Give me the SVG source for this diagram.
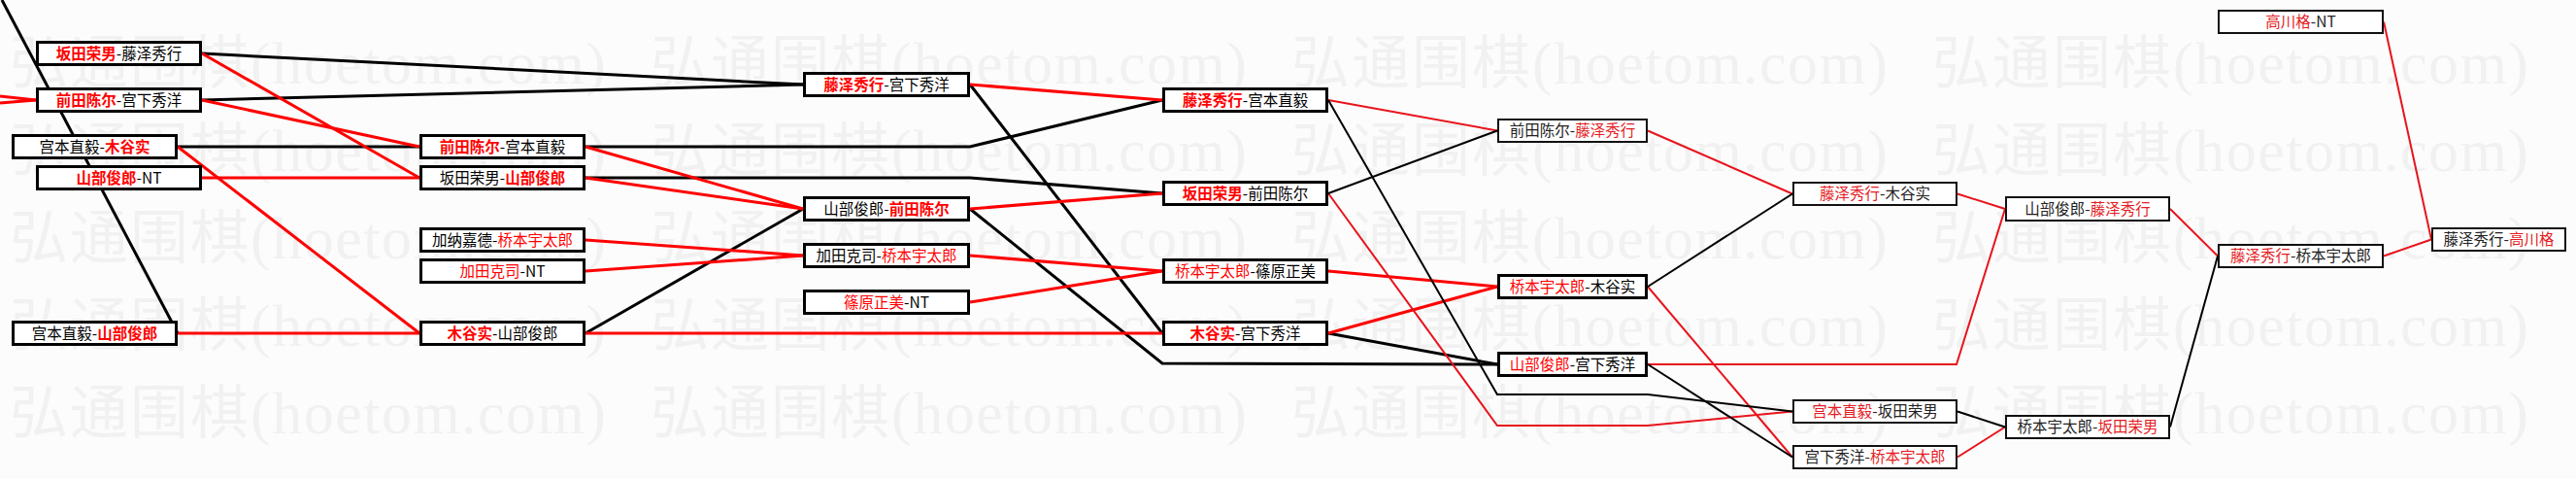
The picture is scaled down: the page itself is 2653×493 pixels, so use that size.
<svg xmlns="http://www.w3.org/2000/svg" width="2653" height="493" viewBox="0 0 2653 493">
<style>
.wc{font-family:"Noto Sans CJK SC",sans-serif;font-size:60px;letter-spacing:2px;fill:#f1f1f1}
.wl{font-family:"Liberation Serif",serif;font-size:62px;fill:#f1f1f1}
.bx{fill:#fff;stroke:#000;stroke-width:3}
.bt{fill:#fff;stroke:#111;stroke-width:2}
.t{font-family:"Noto Sans CJK SC",sans-serif;font-size:15.5px;text-anchor:middle;fill:#000}
.tt{font-family:"Noto Sans CJK SC",sans-serif;font-size:15.5px;text-anchor:middle;fill:#222}
.r{fill:#f00;font-weight:bold}
.rn{fill:#f00}
.rt{fill:#e41c24}
.lk{stroke:#000;stroke-width:3;fill:none}
.lr{stroke:#f00;stroke-width:3;fill:none}
.lkt{stroke:#000;stroke-width:2;fill:none}
.lrt{stroke:#e8141c;stroke-width:2;fill:none}
</style>
<rect x="0" y="0" width="2653" height="493" fill="#fcfcfc"/>
<g id="watermark">
<text y="86"><tspan class="wc" x="10">弘通围棋</tspan><tspan class="wl" x="258" textLength="366" lengthAdjust="spacing">(hoetom.com)</tspan><tspan class="wc" x="670">弘通围棋</tspan><tspan class="wl" x="918" textLength="366" lengthAdjust="spacing">(hoetom.com)</tspan><tspan class="wc" x="1330">弘通围棋</tspan><tspan class="wl" x="1578" textLength="366" lengthAdjust="spacing">(hoetom.com)</tspan><tspan class="wc" x="1990">弘通围棋</tspan><tspan class="wl" x="2238" textLength="366" lengthAdjust="spacing">(hoetom.com)</tspan></text>
<text y="176"><tspan class="wc" x="10">弘通围棋</tspan><tspan class="wl" x="258" textLength="366" lengthAdjust="spacing">(hoetom.com)</tspan><tspan class="wc" x="670">弘通围棋</tspan><tspan class="wl" x="918" textLength="366" lengthAdjust="spacing">(hoetom.com)</tspan><tspan class="wc" x="1330">弘通围棋</tspan><tspan class="wl" x="1578" textLength="366" lengthAdjust="spacing">(hoetom.com)</tspan><tspan class="wc" x="1990">弘通围棋</tspan><tspan class="wl" x="2238" textLength="366" lengthAdjust="spacing">(hoetom.com)</tspan></text>
<text y="266"><tspan class="wc" x="10">弘通围棋</tspan><tspan class="wl" x="258" textLength="366" lengthAdjust="spacing">(hoetom.com)</tspan><tspan class="wc" x="670">弘通围棋</tspan><tspan class="wl" x="918" textLength="366" lengthAdjust="spacing">(hoetom.com)</tspan><tspan class="wc" x="1330">弘通围棋</tspan><tspan class="wl" x="1578" textLength="366" lengthAdjust="spacing">(hoetom.com)</tspan><tspan class="wc" x="1990">弘通围棋</tspan><tspan class="wl" x="2238" textLength="366" lengthAdjust="spacing">(hoetom.com)</tspan></text>
<text y="356"><tspan class="wc" x="10">弘通围棋</tspan><tspan class="wl" x="258" textLength="366" lengthAdjust="spacing">(hoetom.com)</tspan><tspan class="wc" x="670">弘通围棋</tspan><tspan class="wl" x="918" textLength="366" lengthAdjust="spacing">(hoetom.com)</tspan><tspan class="wc" x="1330">弘通围棋</tspan><tspan class="wl" x="1578" textLength="366" lengthAdjust="spacing">(hoetom.com)</tspan><tspan class="wc" x="1990">弘通围棋</tspan><tspan class="wl" x="2238" textLength="366" lengthAdjust="spacing">(hoetom.com)</tspan></text>
<text y="446"><tspan class="wc" x="10">弘通围棋</tspan><tspan class="wl" x="258" textLength="366" lengthAdjust="spacing">(hoetom.com)</tspan><tspan class="wc" x="670">弘通围棋</tspan><tspan class="wl" x="918" textLength="366" lengthAdjust="spacing">(hoetom.com)</tspan><tspan class="wc" x="1330">弘通围棋</tspan><tspan class="wl" x="1578" textLength="366" lengthAdjust="spacing">(hoetom.com)</tspan><tspan class="wc" x="1990">弘通围棋</tspan><tspan class="wl" x="2238" textLength="366" lengthAdjust="spacing">(hoetom.com)</tspan></text>
</g>
<g id="connectors">
<polyline class="lk" points="208,55 827,87"/>
<polyline class="lk" points="208,103 827,87"/>
<polyline class="lk" points="183,151 432,151"/>
<polyline class="lk" points="2,0 183,343"/>
<polyline class="lk" points="603,151 999,151 1197,103"/>
<polyline class="lk" points="603,183 999,183 1197,199"/>
<polyline class="lk" points="603,343 827,215"/>
<polyline class="lk" points="999,87 1197,343"/>
<polyline class="lk" points="999,215 1197,374 1542,375"/>
<polyline class="lk" points="1368,343 1542,375"/>
<polyline class="lr" points="0,99 37,103"/>
<polyline class="lr" points="0,106 37,103"/>
<polyline class="lr" points="208,55 432,183"/>
<polyline class="lr" points="208,103 432,151"/>
<polyline class="lr" points="183,151 432,343"/>
<polyline class="lr" points="208,183 432,183"/>
<polyline class="lr" points="183,343 432,343"/>
<polyline class="lr" points="603,151 827,215"/>
<polyline class="lr" points="603,183 827,215"/>
<polyline class="lr" points="603,247 827,263"/>
<polyline class="lr" points="603,279 827,263"/>
<polyline class="lr" points="603,343 1197,343"/>
<polyline class="lr" points="999,87 1197,103"/>
<polyline class="lr" points="999,215 1197,199"/>
<polyline class="lr" points="999,263 1197,279"/>
<polyline class="lr" points="999,311 1197,279"/>
<polyline class="lr" points="1368,279 1542,295"/>
<polyline class="lr" points="1368,343 1542,295"/>
<polyline class="lrt" points="1368,103 1542,134.5"/>
<polyline class="lrt" points="1368,199 1542,438 1697,438 1846,423.5"/>
<polyline class="lrt" points="1697,134.5 1846,199.5"/>
<polyline class="lrt" points="1697,295 1846,470.5"/>
<polyline class="lrt" points="1697,375 2015,375 2065,215"/>
<polyline class="lrt" points="2016,199.5 2065,215"/>
<polyline class="lrt" points="2016,470.5 2065,439.5"/>
<polyline class="lrt" points="2235,215 2284,263.5"/>
<polyline class="lrt" points="2455,22.5 2504,246.5"/>
<polyline class="lrt" points="2455,263.5 2504,246.5"/>
<polyline class="lkt" points="1368,199 1542,134.5"/>
<polyline class="lkt" points="1368,103 1542,406 1697,406 1846,423.5"/>
<polyline class="lkt" points="1697,295 1846,199.5"/>
<polyline class="lkt" points="1697,375 1846,470.5"/>
<polyline class="lkt" points="2016,423.5 2065,439.5"/>
<polyline class="lkt" points="2235,439.5 2284,263.5"/>
</g>
<g id="A1"><rect class="bx" x="38.5" y="43.5" width="168" height="23"/><text class="t" x="122.5" y="60.5"><tspan class="r">坂田荣男</tspan>-藤泽秀行</text></g>
<g id="A2"><rect class="bx" x="38.5" y="91.5" width="168" height="23"/><text class="t" x="122.5" y="108.5"><tspan class="r">前田陈尔</tspan>-宫下秀洋</text></g>
<g id="A3"><rect class="bx" x="13.5" y="139.5" width="168" height="23"/><text class="t" x="97.5" y="156.5">宫本直毅-<tspan class="r">木谷实</tspan></text></g>
<g id="A4"><rect class="bx" x="38.5" y="171.5" width="168" height="23"/><text class="t" x="122.5" y="188.5"><tspan class="r">山部俊郎</tspan>-NT</text></g>
<g id="A5"><rect class="bx" x="13.5" y="331.5" width="168" height="23"/><text class="t" x="97.5" y="348.5">宫本直毅-<tspan class="r">山部俊郎</tspan></text></g>
<g id="B1"><rect class="bx" x="433.5" y="139.5" width="168" height="23"/><text class="t" x="517.5" y="156.5"><tspan class="r">前田陈尔</tspan>-宫本直毅</text></g>
<g id="B2"><rect class="bx" x="433.5" y="171.5" width="168" height="23"/><text class="t" x="517.5" y="188.5">坂田荣男-<tspan class="r">山部俊郎</tspan></text></g>
<g id="B3"><rect class="bx" x="433.5" y="235.5" width="168" height="23"/><text class="t" x="517.5" y="252.5">加纳嘉德-<tspan class="rn">桥本宇太郎</tspan></text></g>
<g id="B4"><rect class="bx" x="433.5" y="267.5" width="168" height="23"/><text class="t" x="517.5" y="284.5"><tspan class="rn">加田克司</tspan>-NT</text></g>
<g id="B5"><rect class="bx" x="433.5" y="331.5" width="168" height="23"/><text class="t" x="517.5" y="348.5"><tspan class="r">木谷实</tspan>-山部俊郎</text></g>
<g id="C1"><rect class="bx" x="828.5" y="75.5" width="169" height="23"/><text class="t" x="913" y="92.5"><tspan class="r">藤泽秀行</tspan>-宫下秀洋</text></g>
<g id="C2"><rect class="bx" x="828.5" y="203.5" width="169" height="23"/><text class="t" x="913" y="220.5">山部俊郎-<tspan class="r">前田陈尔</tspan></text></g>
<g id="C3"><rect class="bx" x="828.5" y="251.5" width="169" height="23"/><text class="t" x="913" y="268.5">加田克司-<tspan class="rn">桥本宇太郎</tspan></text></g>
<g id="C4"><rect class="bx" x="828.5" y="299.5" width="169" height="23"/><text class="t" x="913" y="316.5"><tspan class="rn">篠原正美</tspan>-NT</text></g>
<g id="D1"><rect class="bx" x="1198.5" y="91.5" width="168" height="23"/><text class="t" x="1282.5" y="108.5"><tspan class="r">藤泽秀行</tspan>-宫本直毅</text></g>
<g id="D2"><rect class="bx" x="1198.5" y="187.5" width="168" height="23"/><text class="t" x="1282.5" y="204.5"><tspan class="r">坂田荣男</tspan>-前田陈尔</text></g>
<g id="D3"><rect class="bx" x="1198.5" y="267.5" width="168" height="23"/><text class="t" x="1282.5" y="284.5"><tspan class="rn">桥本宇太郎</tspan>-篠原正美</text></g>
<g id="D4"><rect class="bx" x="1198.5" y="331.5" width="168" height="23"/><text class="t" x="1282.5" y="348.5"><tspan class="r">木谷实</tspan>-宫下秀洋</text></g>
<g id="E1"><rect class="bt" x="1543" y="123" width="153" height="23"/><text class="tt" x="1619.5" y="140">前田陈尔-<tspan class="rt">藤泽秀行</tspan></text></g>
<g id="E2"><rect class="bx" x="1543.5" y="283.5" width="152" height="23"/><text class="t" x="1619.5" y="300.5"><tspan class="rn">桥本宇太郎</tspan>-木谷实</text></g>
<g id="E3"><rect class="bx" x="1543.5" y="363.5" width="152" height="23"/><text class="t" x="1619.5" y="380.5"><tspan class="rn">山部俊郎</tspan>-宫下秀洋</text></g>
<g id="F1"><rect class="bt" x="1847" y="188" width="168" height="23"/><text class="tt" x="1931" y="205"><tspan class="rt">藤泽秀行</tspan>-木谷实</text></g>
<g id="F2"><rect class="bt" x="1847" y="412" width="168" height="23"/><text class="tt" x="1931" y="429"><tspan class="rt">宫本直毅</tspan>-坂田荣男</text></g>
<g id="F3"><rect class="bt" x="1847" y="459" width="168" height="23"/><text class="tt" x="1931" y="476">宫下秀洋-<tspan class="rt">桥本宇太郎</tspan></text></g>
<g id="G1"><rect class="bt" x="2066" y="203" width="168" height="24"/><text class="tt" x="2150" y="220.5">山部俊郎-<tspan class="rt">藤泽秀行</tspan></text></g>
<g id="G2"><rect class="bt" x="2066" y="428" width="168" height="23"/><text class="tt" x="2150" y="445">桥本宇太郎-<tspan class="rt">坂田荣男</tspan></text></g>
<g id="H1"><rect class="bt" x="2285" y="11" width="169" height="23"/><text class="tt" x="2369.5" y="28"><tspan class="rt">高川格</tspan>-NT</text></g>
<g id="H2"><rect class="bt" x="2285" y="252" width="169" height="23"/><text class="tt" x="2369.5" y="269"><tspan class="rt">藤泽秀行</tspan>-桥本宇太郎</text></g>
<g id="I1"><rect class="bt" x="2505" y="235" width="137" height="23"/><text class="tt" x="2573.5" y="252">藤泽秀行-<tspan class="rt">高川格</tspan></text></g>
</svg>
